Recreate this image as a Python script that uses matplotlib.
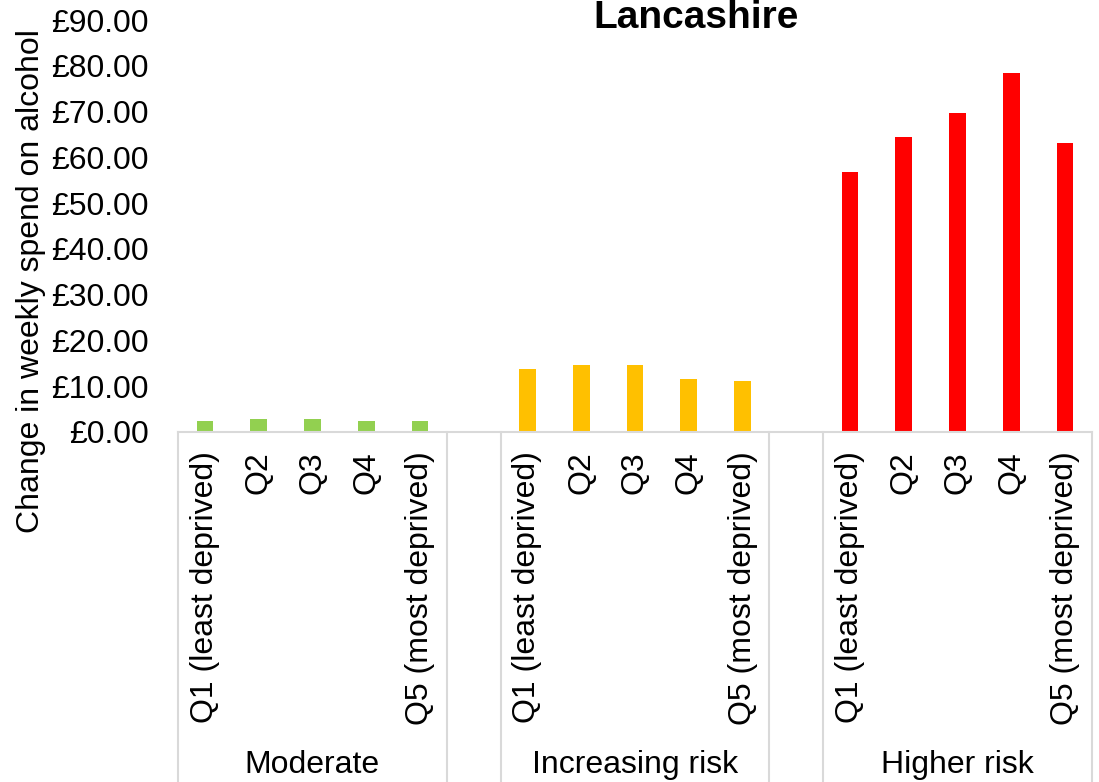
import matplotlib
matplotlib.use("Agg")
import matplotlib.pyplot as plt
import matplotlib.transforms as mtransforms
from matplotlib.ticker import FuncFormatter, MultipleLocator

plt.rcParams['font.family'] = ['Liberation Sans', 'DejaVu Sans']

groups = ["Moderate", "Increasing risk", "Higher risk"]
quintiles = ["Q1 (least deprived)", "Q2", "Q3", "Q4", "Q5 (most deprived)"]
moderate = [2.4, 2.8, 2.8, 2.4, 2.4]
increasing = [13.7, 14.6, 14.6, 11.5, 11.1]
higher = [56.9, 64.5, 69.7, 78.4, 63.2]
colors = ["#92D050", "#FFC000", "#FF0000"]
title = "Lancashire"
ylabel = "Change in weekly spend on alcohol"

fig = plt.figure(figsize=(10.99, 7.82), dpi=100)
ax = fig.add_axes([178/1099, 1-432/782, (1092-178)/1099, (432-20)/782])

series = [moderate, increasing, higher]
slot = 0
tick_pos, tick_lab, group_centers, bounds = [], [], [], [-0.5]
for gi, (vals, col) in enumerate(zip(series, colors)):
    xs = list(range(slot, slot + len(vals)))
    ax.bar(xs, vals, width=0.31, color=col, zorder=2)
    tick_pos += xs
    tick_lab += quintiles
    group_centers.append(sum(xs) / len(xs))
    bounds.append(xs[-1] + 0.5)
    slot = xs[-1] + 1
    if gi < len(series) - 1:
        bounds.append(slot + 0.5)
        slot += 1

ax.set_xlim(-0.5, slot - 0.5)
ax.set_ylim(0, 90)
ax.yaxis.set_major_locator(MultipleLocator(10))
ax.yaxis.set_major_formatter(FuncFormatter(lambda v, p: f"£{v:.2f}"))
ax.tick_params(axis='y', length=0, labelsize=23, pad=21)
ax.set_xticks(tick_pos)
ax.set_xticklabels(tick_lab, rotation=90, fontsize=23, va='top', ha='center')
ax.tick_params(axis='x', length=0, pad=14)
for s in ['top', 'right', 'left']:
    ax.spines[s].set_visible(False)
ax.spines['bottom'].set_color('#D9D9D9')
ax.spines['bottom'].set_linewidth(1.5)

trans = mtransforms.blended_transform_factory(ax.transData, ax.transAxes)
for b in bounds:
    ax.plot([b, b], [0, -0.86], transform=trans, color='#D9D9D9', lw=1.5, clip_on=False)

gtrans = mtransforms.blended_transform_factory(ax.transData, fig.transFigure)
for c, g in zip(group_centers, groups):
    ax.text(c, 1 - 765/782, g, transform=gtrans, ha='center', va='center', fontsize=23)

fig.text(696/1099, 1 - 18/782, title, ha='center', va='center', fontsize=28, fontweight='bold')
fig.text(31/1099, 1 - 281/782, ylabel, rotation=90, ha='center', va='center', fontsize=23)

fig.savefig("out.png", dpi=100)
